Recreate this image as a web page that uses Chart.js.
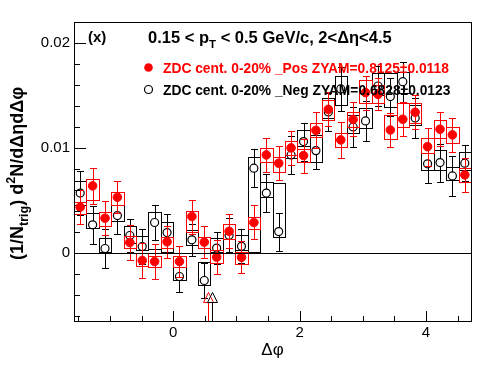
<!DOCTYPE html>
<html><head><meta charset="utf-8">
<script src="https://cdn.jsdelivr.net/npm/chart.js@4.4.1/dist/chart.umd.min.js"></script>
<style>html,body{margin:0;padding:0;background:#fff}canvas{display:block}</style>
</head><body>
<canvas id="c" width="496" height="374"></canvas>
<script>
// ---- data ----
const dphi = [-1.473,-1.276,-1.080,-0.884,-0.687,-0.491,-0.295,-0.098,0.098,0.295,0.491,0.687,0.884,1.080,1.276,1.473,
              1.669,1.865,2.062,2.258,2.454,2.651,2.847,3.043,3.240,3.436,3.633,3.829,4.025,4.222,4.418,4.614];

const posVal = [0.00435,0.00638,0.00330,0.00530,0.00098,-0.00073,-0.00083,0.00105,-0.00083,0.00346,0.00102,-0.00041,0.00205,-0.00043,0.00289,0.00933,
                0.00854,0.01000,0.00927,0.01167,0.01367,0.01076,0.01271,0.01527,0.01510,0.01171,0.01273,0.01340,0.01012,0.01178,0.01124,0.00743];
const posStat = [0.00162,0.00171,0.00162,0.00152,0.00171,0.00171,0.00171,0.00152,0.00152,0.00162,0.00152,0.00162,0.00162,0.00152,0.00162,0.00162,
                 0.00162,0.00162,0.00162,0.00171,0.00162,0.00171,0.00162,0.00162,0.00152,0.00162,0.00162,0.00162,0.00181,0.00162,0.00162,0.00162];
const posSysUp = [0.00053,0.00064,0.00060,0.00053,0.00064,0.00070,0.00054,0.00050,0.00054,0.00054,0.00053,0.00067,0.00069,0.00055,0.00051,0.00067,
                  0.00060,0.00067,0.00064,0.00071,0.00090,0.00067,0.00071,0.00121,0.00090,0.00143,0.00152,0.00086,0.00080,0.00089,0.00073,0.00064];
const posSysDown = [0.00064,0.00133,0.00073,0.00073,0.00053,0.00057,0.00053,0.00060,0.00053,0.00143,0.00054,0.00057,0.00074,0.00062,0.00063,0.00067,
                    0.00080,0.00067,0.00060,0.00062,0.00100,0.00067,0.00071,0.00095,0.00081,0.00086,0.00070,0.00105,0.00063,0.00086,0.00079,0.00064];

const negVal = [0.00569,0.00267,0.00041,0.00355,0.00165,0.00060,0.00289,0.00193,-0.00226,0.00124,-0.00264,0.00045,0.00167,0.00062,0.00807,0.00569,
                0.00202,0.00933,0.01060,0.00974,0.01343,0.01562,0.01200,0.01257,0.01590,0.01489,0.01631,0.01286,0.00848,0.00860,0.00733,0.00854];
const negStat = [0.00210,0.00181,0.00190,0.00171,0.00162,0.00171,0.00171,0.00181,0.00152,0.00152,0.00171,0.00152,0.00162,0.00162,0.00181,0.00181,
                 0.00181,0.00181,0.00181,0.00171,0.00181,0.00210,0.00190,0.00190,0.00190,0.00181,0.00190,0.00190,0.00181,0.00181,0.00190,0.00171];
const negSysUp = [0.00114,0.00111,0.00102,0.00102,0.00092,0.00102,0.00102,0.00102,0.00092,0.00095,0.00178,0.00095,0.00111,0.00110,0.00108,0.00110,
                  0.00465,0.00133,0.00111,0.00150,0.00133,0.00124,0.00114,0.00121,0.00124,0.00226,0.00092,0.00124,0.00102,0.00121,0.00089,0.00110];
const negSysDown = [0.00114,0.00031,0.00038,0.00048,0.00070,0.00031,0.00257,0.00190,0.00031,0.00048,0.00041,0.00038,0.00165,0.00033,0.00800,0.00038,
                    0.00050,0.00029,0.00038,0.00105,0.00057,0.00152,0.00057,0.00070,0.00086,0.00095,0.00108,0.00067,0.00057,0.00070,0.00038,0.00064];

const zyamArrowX = [0.554, 0.607];      // red (Pos), black (Neg)
const zyamArrowTip = -0.0037;

const xTickVals = [0, 2, 4];
const xTickText = ['0', '2', '4'];
const yTickVals = [0, 0.01, 0.02];
const yTickText = ['0', '0.01', '0.02'];

const legendPos = 'ZDC cent. 0-20% _Pos ZYAM=0.8125\u00b10.0118';
const legendNeg = 'ZDC cent. 0-20% _Neg ZYAM=0.6828\u00b10.0123';

// ---- styling ----
const RED = '#ff0000', BLACK = '#000000';
const FONT = "'Liberation Sans', Arial, Helvetica, sans-serif";

const boxData = (v, up, dn) => dphi.map((x, i) => ({x: x, y: [v[i] - dn[i], v[i] + up[i]]}));
const ptData = v => dphi.map((x, i) => ({x: x, y: v[i]}));

function drawRich(ctx, segs, x, y, size, weight, align) {
  const f = s => `${weight} ${s}px ${FONT}`;
  const ws = segs.map(sg => { ctx.font = f(sg.s ? size * 0.7 : size); return ctx.measureText(sg.t).width; });
  const total = ws.reduce((a, b) => a + b, 0);
  let cx = align === 'center' ? x - total / 2 : x;
  ctx.textAlign = 'left';
  ctx.textBaseline = 'alphabetic';
  segs.forEach((sg, i) => {
    ctx.font = f(sg.s ? size * 0.7 : size);
    const dy = sg.s === 'sub' ? size * 0.3 : (sg.s === 'sup' ? -size * 0.45 : 0);
    ctx.fillText(sg.t, cx, y + dy);
    cx += ws[i];
  });
}

const rootPlugin = {
  id: 'rootStyle',
  afterDatasetDraw(chart, args) {
    const ds = chart.data.datasets[args.index];
    if (!ds.boxColor) return;
    const ctx = chart.ctx;
    ctx.save();
    ctx.strokeStyle = ds.boxColor;
    ctx.lineWidth = 1;
    args.meta.data.forEach(el => {
      const p = el.getProps(['x', 'y', 'base', 'width'], true);
      const l = Math.round(p.x - p.width / 2) + 0.5, r = Math.round(p.x + p.width / 2) + 0.5;
      const t = Math.round(Math.min(p.y, p.base)) + 0.5, b = Math.round(Math.max(p.y, p.base)) + 0.5;
      ctx.strokeRect(l, t, r - l, b - t);
    });
    ctx.restore();
  },
  beforeDatasetDraw(chart, args) {
    const ds = chart.data.datasets[args.index];
    if (!ds.errs) return;
    const ctx = chart.ctx, ys = chart.scales.y;
    const r = ds.pointRadius;
    ctx.save();
    ctx.strokeStyle = ds.errColor;
    ctx.lineWidth = 1;
    args.meta.data.forEach((p, i) => {
      const v = ds.data[i].y;
      const yt = Math.round(ys.getPixelForValue(v + ds.errs[i])) + 0.5;
      const yb = Math.round(ys.getPixelForValue(v - ds.errs[i])) + 0.5;
      const x = Math.round(p.x) + 0.5;
      ctx.beginPath();
      ctx.moveTo(x, yt); ctx.lineTo(x, p.y - r);
      ctx.moveTo(x, p.y + r); ctx.lineTo(x, yb);
      ctx.moveTo(x - 3.5, yt); ctx.lineTo(x + 3.5, yt);
      ctx.moveTo(x - 3.5, yb); ctx.lineTo(x + 3.5, yb);
      ctx.stroke();
    });
    ctx.restore();
  },
  afterDatasetsDraw(chart) {
    const ctx = chart.ctx, xs = chart.scales.x, ys = chart.scales.y, a = chart.chartArea;
    ctx.save();
    // ZYAM arrows
    [RED, BLACK].forEach((col, k) => {
      const x = Math.round(xs.getPixelForValue(zyamArrowX[k])) + 0.5;
      const tip = Math.round(ys.getPixelForValue(zyamArrowTip)) + 0.5;
      const base = tip + 10;
      ctx.strokeStyle = col; ctx.lineWidth = 1;
      ctx.beginPath();
      ctx.moveTo(x, a.bottom); ctx.lineTo(x, base);
      ctx.moveTo(x, tip); ctx.lineTo(x - 5, base); ctx.lineTo(x + 5, base); ctx.closePath();
      ctx.stroke();
    });
    ctx.restore();
  },
  afterDraw(chart) {
    const ctx = chart.ctx, xs = chart.scales.x, ys = chart.scales.y, a = chart.chartArea;
    ctx.save();
    ctx.strokeStyle = BLACK; ctx.lineWidth = 1;
    // zero line
    const y0 = Math.round(ys.getPixelForValue(0)) + 0.5;
    ctx.beginPath(); ctx.moveTo(a.left, y0); ctx.lineTo(a.right, y0); ctx.stroke();
    // frame
    ctx.strokeRect(Math.round(a.left) + 0.5, Math.round(a.top) + 0.5, Math.round(a.right - a.left), Math.round(a.bottom - a.top));
    // y ticks (inside)
    ctx.beginPath();
    for (let k = -3; k <= 11; k++) {
      const v = k * 0.002;
      if (v < ys.min || v > ys.max) continue;
      const yy = Math.round(ys.getPixelForValue(v)) + 0.5;
      const len = (k % 5 === 0) ? 12 : 6;
      ctx.moveTo(a.left, yy); ctx.lineTo(a.left + len, yy);
    }
    // x ticks (inside)
    for (let k = -3; k <= 9; k++) {
      const v = k * 0.5;
      if (v < xs.min || v > xs.max) continue;
      const xx = Math.round(xs.getPixelForValue(v)) + 0.5;
      const len = (k % 4 === 0) ? 10 : 5;
      ctx.moveTo(xx, a.bottom); ctx.lineTo(xx, a.bottom - len);
    }
    ctx.stroke();

    // titles
    ctx.fillStyle = BLACK;
    drawRich(ctx, [{t: '(x)'}], 88, 42, 15, 'bold', 'left');
    drawRich(ctx, [{t: '0.15 < p'}, {t: 'T', s: 'sub'}, {t: ' < 0.5 GeV/c, 2<\u0394\u03b7<4.5'}], 148, 43, 16.5, 'bold', 'left');

    // legend
    ctx.fillStyle = RED;
    ctx.beginPath(); ctx.arc(148.5, 67.5, 4.3, 0, Math.PI * 2); ctx.fill();
    drawRich(ctx, [{t: legendPos}], 163, 72.5, 13.8, 'bold', 'left');
    ctx.strokeStyle = BLACK; ctx.lineWidth = 1.2;
    ctx.beginPath(); ctx.arc(148.5, 89.5, 4, 0, Math.PI * 2); ctx.stroke();
    ctx.fillStyle = BLACK;
    drawRich(ctx, [{t: legendNeg}], 163, 94.5, 13.8, 'bold', 'left');

    // x axis title
    ctx.font = `17px ${FONT}`; ctx.textAlign = 'center'; ctx.textBaseline = 'alphabetic';
    ctx.fillText('\u0394\u03c6', (a.left + a.right) / 2, 355);

    // y axis title (rotated)
    ctx.translate(23, (a.top + a.bottom) / 2 + 2);
    ctx.rotate(-Math.PI / 2);
    drawRich(ctx, [{t: '(1/N'}, {t: 'trig', s: 'sub'}, {t: ') d'}, {t: '2', s: 'sup'}, {t: 'N/d\u0394\u03b7d\u0394\u03c6'}], 0, 0, 18, 'bold', 'center');
    ctx.restore();
  }
};

const clear = 'rgba(0,0,0,0)';
new Chart(document.getElementById('c'), {
  type: 'scatter',
  data: {
    datasets: [
      {type: 'bar', label: 'Neg sys', data: boxData(negVal, negSysUp, negSysDown), boxColor: BLACK,
       borderColor: clear, backgroundColor: clear, borderWidth: 0, borderSkipped: false, grouped: false,
       barPercentage: 1, categoryPercentage: 1, inflateAmount: 0, order: 6},
      {type: 'scatter', label: legendNeg, data: ptData(negVal), errs: negStat, errColor: BLACK,
       pointStyle: 'circle', pointRadius: 4, pointBackgroundColor: clear, pointBorderColor: BLACK,
       pointBorderWidth: 1.2, showLine: false, order: 5},
      {type: 'bar', label: 'Pos sys', data: boxData(posVal, posSysUp, posSysDown), boxColor: RED,
       borderColor: clear, backgroundColor: clear, borderWidth: 0, borderSkipped: false, grouped: false,
       barPercentage: 1, categoryPercentage: 1, inflateAmount: 0, order: 4},
      {type: 'scatter', label: legendPos, data: ptData(posVal), errs: posStat, errColor: RED,
       pointStyle: 'circle', pointRadius: 4.3, pointBackgroundColor: RED, pointBorderColor: RED,
       pointBorderWidth: 1, showLine: false, order: 3}
    ]
  },
  options: {
    responsive: false, maintainAspectRatio: false, devicePixelRatio: 1, animation: false, events: [],
    layout: {padding: {top: 22, right: 25, left: 0, bottom: 0}},
    plugins: {legend: {display: false}, tooltip: {enabled: false}},
    scales: {
      x: {type: 'linear', position: 'bottom', min: -Math.PI / 2, max: 1.5 * Math.PI, offset: false, bounds: 'data',
          grid: {display: false, drawTicks: false}, border: {display: false},
          afterFit: s => { s.height = 53; },
          afterBuildTicks: s => { s.ticks = xTickVals.map(v => ({value: v})); },
          ticks: {autoSkip: false, maxRotation: 0, padding: 3, color: BLACK, font: {family: FONT, size: 15},
                  callback: (v, i) => xTickText[i]}},
      y: {type: 'linear', position: 'left', min: -0.0065, max: 0.022, bounds: 'data', beginAtZero: false,
          grid: {display: false, drawTicks: false}, border: {display: false},
          afterFit: s => { s.width = 74; },
          afterBuildTicks: s => { s.ticks = yTickVals.map(v => ({value: v})); },
          ticks: {autoSkip: false, padding: 4, color: BLACK, font: {family: FONT, size: 15},
                  callback: (v, i) => yTickText[i]}}
    }
  },
  plugins: [rootPlugin]
});
</script>
</body></html>
